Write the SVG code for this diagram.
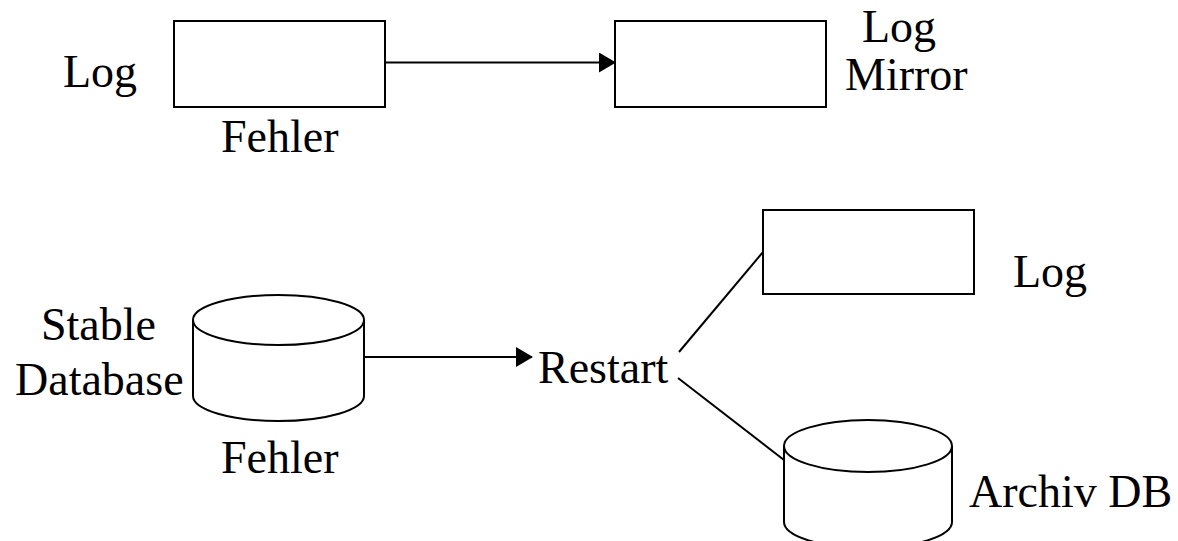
<svg xmlns="http://www.w3.org/2000/svg" width="1178" height="541" viewBox="0 0 1178 541">
  <style>
    .shape { fill: #ffffff; stroke: #000000; stroke-width: 2; }
    .edge { fill: none; stroke: #000000; stroke-width: 2; }
    .label { font-size: 46px; fill: #000000; }
  </style>
  <defs>
    <marker id="arrow" markerWidth="17" markerHeight="20" refX="16" refY="10" orient="auto" markerUnits="userSpaceOnUse">
      <path d="M0,0 L17,10 L0,20 Z" fill="#000000"/>
    </marker>
  </defs>
  <rect width="1178" height="541" fill="#ffffff"/>

  <g font-family="Liberation Serif, Times New Roman, DejaVu Serif, serif">
    <!-- Top row: log mirrored -->
    <g id="log">
      <rect class="shape" x="174" y="21" width="211" height="86"/>
      <text class="label" x="63" y="87">Log</text>
      <text class="label" x="221" y="152">Fehler</text>
    </g>
    <g id="log-mirror">
      <rect class="shape" x="615" y="21" width="211" height="86"/>
      <text class="label" x="862" y="42">Log</text>
      <text class="label" x="845" y="90">Mirror</text>
    </g>

    <!-- Bottom row: restart from log and archive -->
    <g id="stable-database">
      <path class="shape" d="M193,320 L193,396 A85.5,25 0 0 0 364,396 L364,320"/>
      <ellipse class="shape" cx="278.5" cy="320" rx="85.5" ry="25"/>
      <text class="label" x="41" y="340">Stable</text>
      <text class="label" x="15" y="395">Database</text>
      <text class="label" x="221" y="473">Fehler</text>
    </g>
    <g id="restart">
      <text class="label" x="538" y="383">Restart</text>
    </g>
    <g id="log-2">
      <rect class="shape" x="763" y="210" width="211" height="84"/>
      <text class="label" x="1013" y="287">Log</text>
    </g>
    <g id="archiv-db">
      <path class="shape" d="M784,446 L784,522 A84,26 0 0 0 952,522 L952,446"/>
      <ellipse class="shape" cx="868" cy="446" rx="84" ry="26"/>
      <text class="label" x="969" y="507">Archiv DB</text>
    </g>
  </g>

  <g id="connectors">
    <line class="edge" x1="385" y1="62.5" x2="615" y2="62.5" marker-end="url(#arrow)"/>
    <line class="edge" x1="364" y1="357" x2="532" y2="357" marker-end="url(#arrow)"/>
    <line class="edge" x1="763" y1="252" x2="679" y2="352"/>
    <line class="edge" x1="678" y1="378" x2="784" y2="460"/>
  </g>
</svg>
